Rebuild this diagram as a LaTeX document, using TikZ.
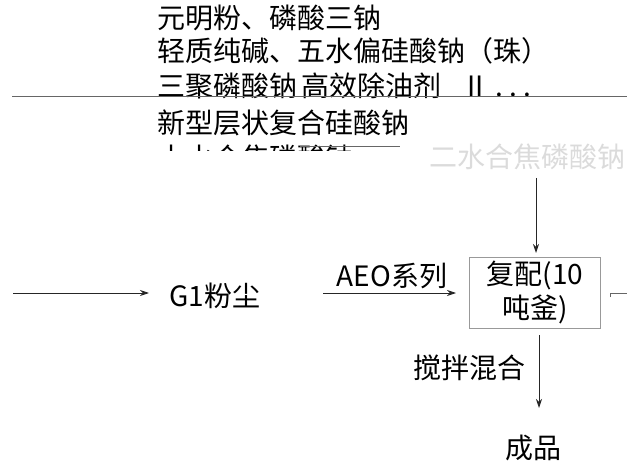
\documentclass[tikz,border=0pt]{standalone}
\usepackage{fontspec}
\setmainfont{Noto Sans CJK SC}
\usetikzlibrary{arrows.meta}
\begin{document}
\begin{tikzpicture}[x=1pt,y=-1pt,
  txt/.style={font=\fontsize{28pt}{34pt}\selectfont, inner sep=0pt, anchor=west},
  ctxt/.style={font=\fontsize{28pt}{34pt}\selectfont, inner sep=0pt},
  arr/.style={-{Stealth[length=9pt,width=6pt]}, line width=0.9pt, black!85},
  thin/.style={line width=1pt, black!70},
  boxst/.style={draw=black!40, line width=1pt, minimum width=131pt, minimum height=71pt, inner sep=0pt, align=center, font=\fontsize{28pt}{34pt}\selectfont}
]
\useasboundingbox (0,0) rectangle (627,468);
% top material list
\node[txt] (l1) at (157,18) {元明粉、磷酸三钠};
\node[txt] (l2) at (157,51) {轻质纯碱、五水偏硅酸钠（珠）};
\node[txt] (l3) at (157,86) {三聚磷酸钠\hspace{4pt}高效除油剂\hspace{26pt}II\hspace{12pt}.\hspace{6pt}.\hspace{6pt}.};
\node[txt] (l4) at (157,123) {新型层状复合硅酸钠};
\begin{scope}
  \clip (0,140) rectangle (627,151);
  \node[txt] (l5) at (157,158) {十水合焦磷酸钠};
\end{scope}
\node[txt, text=black!14] (l6) at (429,157) {二水合焦磷酸钠};
% horizontal rules
\coordinate (h1) at (12,97);
\coordinate (h2) at (627,97);
\draw[thin, black!60] (h1) -- (h2);
\coordinate (h3) at (300,147);
\coordinate (h4) at (400,147);
\draw[thin, black!60] (h3) -- (h4);
% flow
\node[boxst] (box) at (535,292.5) {复配(10\\吨釜)};
\node[ctxt] (g1) at (215,296) {G1粉尘};
\node[ctxt] (aeo) at (392,276) {AEO系列};
\node[ctxt] (mix) at (469,368) {搅拌混合};
\node[ctxt] (prod) at (533,448) {成品};
\coordinate (a0) at (13,293);
\coordinate (a1) at (149,293);
\draw[arr] (a0) -- (a1);
\coordinate (b0) at (323,293);
\coordinate (b1) at (456,293);
\draw[arr] (b0) -- (b1);
\coordinate (v0) at (536,178);
\coordinate (v1) at (536,253);
\draw[arr] (v0) -- (v1);
\coordinate (d0) at (539,335);
\coordinate (d1) at (539,408);
\draw[arr] (d0) -- (d1);
\coordinate (r0) at (610,297);
\coordinate (r1) at (610,293);
\coordinate (r2) at (627,293);
\draw[thin, black!60] (r0) -- (r1) -- (r2);
\end{tikzpicture}
\end{document}
